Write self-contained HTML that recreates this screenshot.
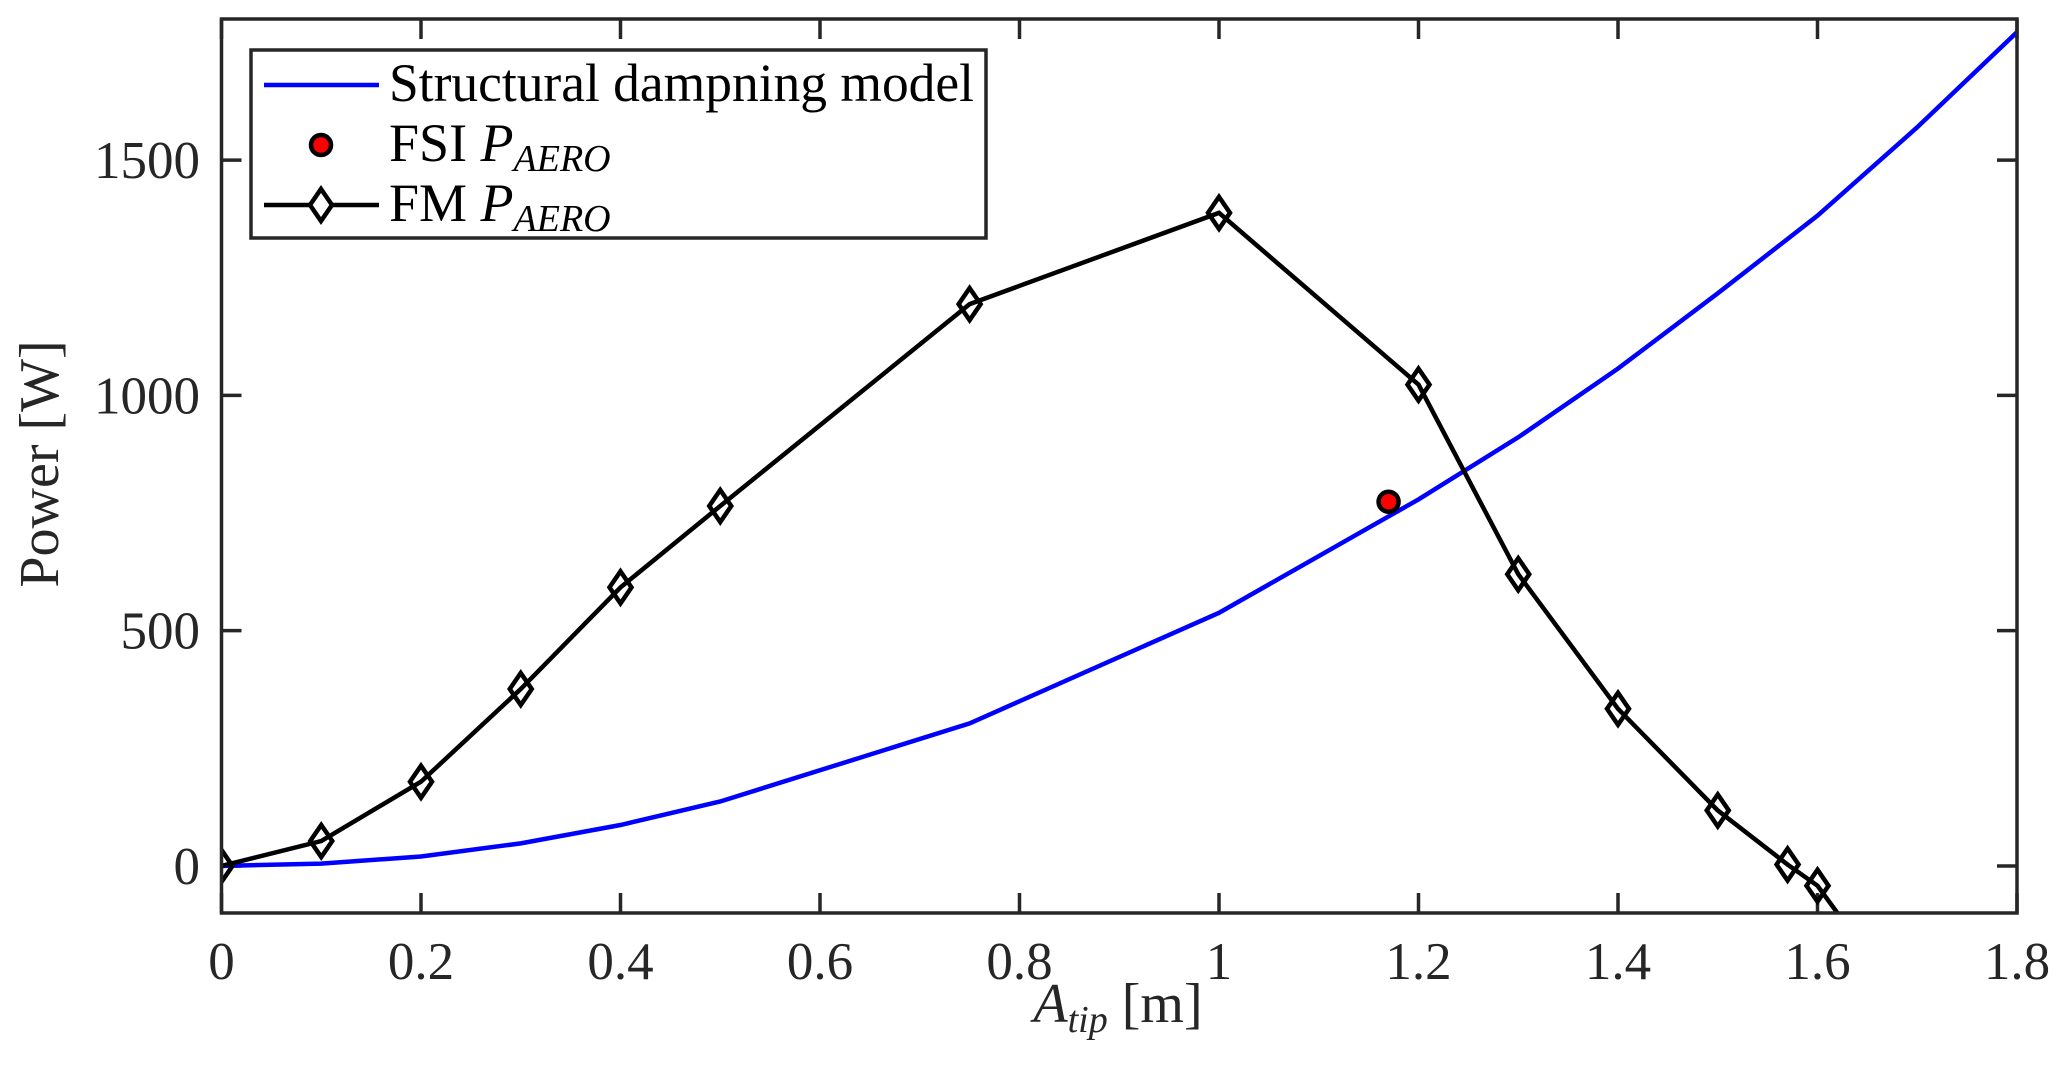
<!DOCTYPE html>
<html><head><meta charset="utf-8"><style>
html,body{margin:0;padding:0;background:#fff;}
svg{display:block;font-family:"Liberation Serif",serif;}
</style></head><body>
<svg id="chart" width="2067" height="1085" viewBox="0 0 2067 1085" xmlns="http://www.w3.org/2000/svg">
<defs><clipPath id="clip"><rect x="221" y="19" width="1796" height="894"/></clipPath></defs>
<rect x="0" y="0" width="2067" height="1085" fill="#fff"/>
<g id="grid-ticks"></g>
<g id="series" clip-path="url(#clip)"></g>
<rect x="221.5" y="19" width="1795.5" height="894" fill="none" stroke="#262626" stroke-width="3.5"/>
<g id="labels" fill="#262626" font-size="53"></g>
<text x="1118" y="1022" text-anchor="middle" font-size="56" fill="#262626"><tspan font-style="italic">A</tspan><tspan font-style="italic" font-size="38" dy="10">tip</tspan><tspan dy="-10"> [m]</tspan></text>
<text transform="translate(58,464) rotate(-90)" text-anchor="middle" font-size="56" fill="#262626">Power [W]</text>
<g>
<rect x="251" y="50" width="735" height="188" fill="#fff" stroke="#262626" stroke-width="3.5"/>
<line x1="264" y1="85" x2="379" y2="85" stroke="#0000ff" stroke-width="4.5"/>
<text x="389" y="101" font-size="54" fill="#000" textLength="585" lengthAdjust="spacingAndGlyphs">Structural dampning model</text>
<circle cx="321" cy="145" r="10" fill="#ff0000" stroke="#000" stroke-width="4.5"/>
<text x="389" y="161" font-size="54" fill="#000">FSI <tspan font-style="italic">P</tspan><tspan font-style="italic" font-size="38" dy="10">AERO</tspan></text>
<line x1="264" y1="205" x2="379" y2="205" stroke="#000" stroke-width="4.5"/>
<polygon points="321,189 332,205 321,221 310,205" fill="#fff" stroke="#000" stroke-width="4.5"/>
<text x="389" y="221" font-size="54" fill="#000">FM <tspan font-style="italic">P</tspan><tspan font-style="italic" font-size="38" dy="10">AERO</tspan></text>
</g>
</svg>
<script>
const xTicks=[0,0.2,0.4,0.6,0.8,1,1.2,1.4,1.6,1.8];
const xTickLabels=["0","0.2","0.4","0.6","0.8","1","1.2","1.4","1.6","1.8"];
const yTicks=[0,500,1000,1500];
const yTickLabels=["0","500","1000","1500"];
const structX=[0,0.1,0.2,0.3,0.4,0.5,0.75,1.0,1.2,1.3,1.4,1.5,1.6,1.7,1.8];
const structY=[0,5,20,48,87,137,303,538,779,911,1057,1217,1382,1570,1772];
const fmX=[0,0.1,0.2,0.3,0.4,0.5,0.75,1.0,1.2,1.3,1.4,1.5,1.57,1.6,1.65];
const fmY=[0,53,179,376,592,765,1194,1388,1023,620,334,118,3,-42,-187];
const fsiX=[1.17];
const fsiY=[774];

const NS="http://www.w3.org/2000/svg";
const X0=221.5,X1=2017,Y0=913,Y1=19,xmin=0,xmax=1.8,ymin=-100,ymax=1800;
function sx(v){return X0+(v-xmin)/(xmax-xmin)*(X1-X0);}
function sy(v){return Y0-(v-ymin)/(ymax-ymin)*(Y0-Y1);}
function mk(tag,attrs,parent){const e=document.createElementNS(NS,tag);for(const k in attrs)e.setAttribute(k,attrs[k]);parent.appendChild(e);return e;}
const ticks=document.getElementById('grid-ticks'),labels=document.getElementById('labels'),series=document.getElementById('series');
xTicks.forEach((t,i)=>{
  const x=sx(t);
  let l=mk('line',{x1:x,y1:Y0,x2:x,y2:Y0-20,stroke:'#262626','stroke-width':3.5},ticks);
  
  
  l=mk('line',{x1:x,y1:Y1,x2:x,y2:Y1+20,stroke:'#262626','stroke-width':3.5},ticks);
  
  
  const tx=mk('text',{x:x,y:979,'text-anchor':'middle'},labels);
  tx.textContent=xTickLabels[i];
  
  
});
yTicks.forEach((t,i)=>{
  const y=sy(t);
  let l=mk('line',{x1:X0,y1:y,x2:X0+20,y2:y,stroke:'#262626','stroke-width':3.5},ticks);
  
  
  l=mk('line',{x1:X1,y1:y,x2:X1-20,y2:y,stroke:'#262626','stroke-width':3.5},ticks);
  
  
  const tx=mk('text',{x:200,y:y+18,'text-anchor':'end'},labels);
  tx.textContent=yTickLabels[i];
  
  
});
const sl=mk('polyline',{points:structX.map((x,i)=>sx(x)+','+sy(structY[i])).join(' '),fill:'none',stroke:'#0000ff','stroke-width':4.5},series);


const fl=mk('polyline',{points:fmX.map((x,i)=>sx(x)+','+sy(fmY[i])).join(' '),fill:'none',stroke:'#000','stroke-width':4.5},series);


fmX.forEach((x,i)=>{
  const cx=sx(x),cy=sy(fmY[i]);
  const p=mk('polygon',{points:`${cx},${cy-16} ${cx+11},${cy} ${cx},${cy+16} ${cx-11},${cy}`,fill:'none',stroke:'#000','stroke-width':4.5},series);
  
  
});
fsiX.forEach((x,i)=>{
  const c=mk('circle',{cx:sx(x),cy:sy(fsiY[i]),r:10,fill:'#ff0000',stroke:'#000','stroke-width':4.5},series);
  
  
});
</script>
</body></html>
